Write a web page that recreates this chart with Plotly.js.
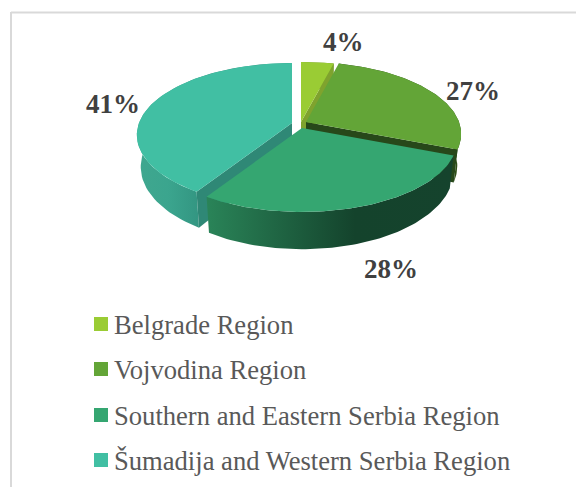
<!DOCTYPE html>
<html>
<head>
<meta charset="utf-8">
<script src="https://cdn.plot.ly/plotly-3.0.1.min.js"></script>
<style>html,body{margin:0;padding:0;background:#fff}#c{width:576px;height:487px}</style>
</head>
<body>
<div id="c"></div>
<script>
const categories = ["Belgrade Region", "Vojvodina Region", "Southern and Eastern Serbia Region", "Šumadija and Western Serbia Region"];
const shares = [4, 27, 28, 41];
const topColors = ["#9ACC34", "#63A537", "#35A671", "#41BFA3"];
const wallColors = ["#7FA32E", "#27481A", "#35A671", "#2F8876"];
const sideStops = [
  [[0, "#6F9628"], [1, "#6F9628"]],
  [[0, "#27481A"], [1, "#2F4F18"]],
  [[0, "#2A8559"], [0.6, "#14432C"], [1, "#15432D"]],
  [[0, "#3FA78F"], [0.5, "#3BA58E"], [1, "#339682"]]
];
const sideRange = [[300, 340], [300, 460], [205, 455], [138, 198]];
const apexX = [301, 306, 302, 292];
const apexY = [122, 122, 128, 123];
const labelX = [343, 473, 391, 113];
const labelY = [42, 91, 269, 104];
const legendRowY = [324, 369, 415, 460];
const paintOrder = [0, 1, 3, 2];

// Pie geometry: perspective projection of a tilted disc.
const R = 153, S = 70, K = 0.1667, DEPTH = 31, BOTTOM_SCALE = 0.975;
const total = shares.reduce((a, b) => a + b, 0);

function project(i, deg, lower) {
  const t = deg * Math.PI / 180, u = Math.sin(t), v = -Math.cos(t), w = 1 - K * v;
  const s = lower ? BOTTOM_SCALE : 1;
  return [apexX[i] + s * R * u / w, apexY[i] + S * v / w + (lower ? DEPTH / w : 0)];
}
function arc(i, a0, a1, lower) {
  const pts = [], n = 72;
  for (let k = 0; k <= n; k++) pts.push(project(i, a0 + (a1 - a0) * k / n, lower));
  return pts;
}
function poly(pts, extra) {
  return Object.assign({
    type: "scatter", mode: "lines", x: pts.map(p => p[0]), y: pts.map(p => p[1]),
    fill: "toself", line: { width: 0 }, hoverinfo: "skip", showlegend: false
  }, extra);
}

const traces = [];
const starts = [];
let acc = 0;
shares.forEach(v => { starts.push(acc); acc += v; });

paintOrder.forEach(i => {
  const a0 = starts[i] / total * 360, a1 = (starts[i] + shares[i]) / total * 360;
  const rim = arc(i, a0, a1, false).concat(arc(i, a0, a1, true).reverse());
  traces.push(poly(rim, {
    fillgradient: { type: "horizontal", colorscale: sideStops[i], start: sideRange[i][0], stop: sideRange[i][1] }
  }));
  const wallAngle = i === 3 ? a0 : a1;
  const apex = [apexX[i], apexY[i]], apexLow = [apexX[i], apexY[i] + DEPTH];
  const e0 = project(i, wallAngle, false), e1 = project(i, wallAngle, true);
  if (i !== 2) traces.push(poly([apex, e0, e1, apexLow], { fillcolor: wallColors[i] }));
  traces.push(poly([apex].concat(arc(i, a0, a1, false)), { fillcolor: topColors[i] }));
});

// Legend swatches
categories.forEach((name, i) => {
  traces.push({
    type: "scatter", mode: "markers", x: [101], y: [legendRowY[i]], name: name,
    marker: { symbol: "square", size: 14, color: topColors[i] },
    hoverinfo: "skip", showlegend: false, cliponaxis: false
  });
});

const valueLabels = categories.map((c, i) => ({
  x: labelX[i], y: labelY[i], xref: "x", yref: "y", text: "<b>" + shares[i] + "%</b>", showarrow: false,
  xanchor: "center", yanchor: "middle",
  font: { family: "Liberation Serif", size: 27, color: "#404040" }
}));
const legendLabels = categories.map((c, i) => ({
  x: 113, y: legendRowY[i] + 1, xref: "x", yref: "y", text: c, showarrow: false,
  xanchor: "left", yanchor: "middle", borderpad: 0,
  font: { family: "Liberation Serif", size: 26.6, color: "#595959" }
}));

const layout = {
  width: 576, height: 487,
  margin: { l: 0, r: 0, t: 0, b: 0 },
  paper_bgcolor: "#fff", plot_bgcolor: "#fff",
  xaxis: { range: [0, 576], visible: false, fixedrange: true },
  yaxis: { range: [487, 0], visible: false, fixedrange: true },
  showlegend: false,
  shapes: [
    { type: "line", xref: "x", yref: "y", x0: 11, x1: 576, y0: 12.5, y1: 12.5, line: { color: "#D9D9D9", width: 2 } },
    { type: "line", xref: "x", yref: "y", x0: 11, x1: 11, y0: 12, y1: 487, line: { color: "#D9D9D9", width: 2 } }
  ],
  annotations: valueLabels.concat(legendLabels)
};
Plotly.newPlot("c", traces, layout, { staticPlot: true, displayModeBar: false });
</script>
</body>
</html>
